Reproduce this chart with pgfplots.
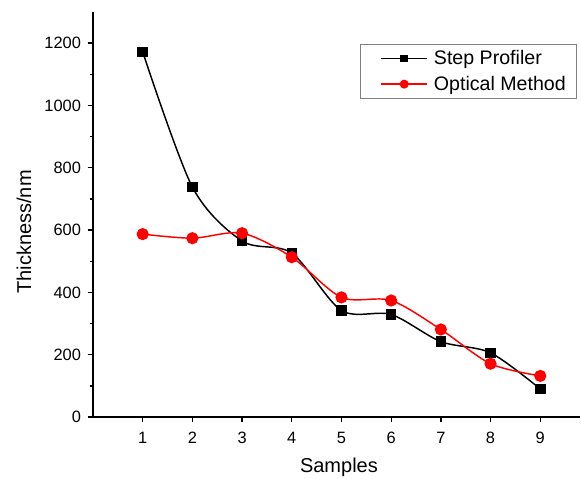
\documentclass[border=0pt]{standalone}
\usepackage{fontspec}
\setmainfont{Liberation Sans}
\usepackage{pgfplots}
\pgfplotsset{compat=1.18}

\begin{document}
\begin{tikzpicture}
\begin{axis}[
  scale only axis,
  width=365.25pt, height=303.75pt,
  xmin=0, xmax=9.8,
  ymin=0, ymax=1300,
  axis x line*=bottom,
  axis y line*=left,
  axis line style={line width=1.1pt,-},
  tick align=outside,
  major tick length=4pt,
  minor tick length=2.5pt,
  tick style={line width=1pt,black},
  xtick={1,2,...,9},
  ytick={0,200,...,1200},
  minor y tick num=1,
  /pgf/number format/assume math mode=true,
  /pgf/number format/1000 sep={},
  ticklabel style={font=\fontsize{12.3}{14}\selectfont},
  xticklabel style={yshift=-3.5pt},
  yticklabel style={xshift=-1.5pt},
  xlabel={Samples},
  ylabel={Thickness/nm},
  label style={font=\fontsize{15}{18}\selectfont},
  xlabel style={at={(rel axis cs:0.505,0)},anchor=base,yshift=-41.5pt},
  ylabel style={at={([xshift=-51.75pt]rel axis cs:0,0.457)},anchor=center,rotate=0},
  legend style={at={(0.9938,0.921)},anchor=north east,draw=gray,line width=0.8pt,
    font=\fontsize{14.7}{17}\selectfont,row sep=3pt,inner xsep=6pt,inner ysep=2.5pt},
  legend cell align=left,
  legend image code/.code={
    \path (-9pt,0pt) (37pt,0pt);
    \draw[line width=1.1pt] (0pt,0pt) -- (34.5pt,0pt);
    \draw plot coordinates {(17.25pt,0pt)};
  },
]
\addplot[black,line width=1.1pt,smooth,tension=0.5,mark=square*,mark size=3.4pt,mark options={solid},
  legend image post style={mark size=2.3pt}]
  coordinates{
    (1,1172) (2,738) (3,565) (4,526) (5,342)
    (6,329) (7,242) (8,206) (9,90)
  };
\addlegendentry{Step Profiler}
\addplot[red,line width=1.1pt,smooth,tension=0.5,mark=*,mark size=4pt,mark options={solid},
  legend image post style={mark size=2.8pt}]
  coordinates{
    (1,587) (2,574) (3,590) (4,513) (5,384)
    (6,374) (7,281) (8,171) (9,132)
  };
\addlegendentry{Optical Method}
\end{axis}
\pgfresetboundingbox
\path ([shift={(-69.75pt,-45.75pt)}]current axis.south west) rectangle ([shift={(0.75pt,9pt)}]current axis.north east);
\end{tikzpicture}
\end{document}
